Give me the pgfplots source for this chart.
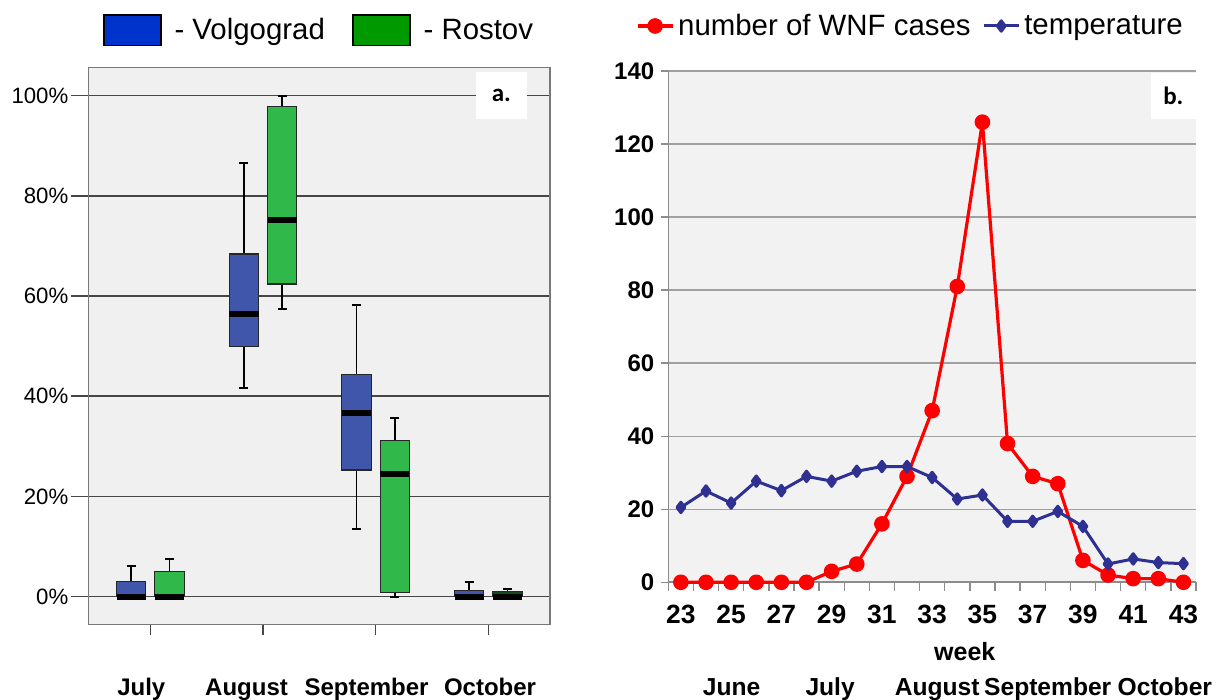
\documentclass[border=0pt]{standalone}
\usepackage{fontspec}
\setmainfont{Liberation Sans}
\newfontfamily\carlito{Carlito}
\usepackage{pgfplots}
\usepackage{pgfplotstable}
\usepgfplotslibrary{statistics}
\pgfplotsset{compat=1.18}

\definecolor{boxV}{RGB}{64,86,170}
\definecolor{boxR}{RGB}{48,184,74}
\definecolor{legV}{RGB}{0,51,204}
\definecolor{legR}{RGB}{0,153,0}
\definecolor{bgA}{RGB}{240,240,240}
\definecolor{bgB}{RGB}{242,242,242}
\definecolor{frameA}{RGB}{120,120,120}
\definecolor{gridA}{RGB}{70,70,70}
\definecolor{gridB}{RGB}{160,160,160}
\definecolor{axisB}{RGB}{140,140,140}
\definecolor{wnf}{RGB}{255,0,0}
\definecolor{temp}{RGB}{46,49,146}

% weekly WNF cases and temperature
\pgfplotstableread{
week cases temp
23 0   20.5
24 0   25.0
25 0   21.7
26 0   27.7
27 0   25.1
28 0   29.0
29 3   27.7
30 5   30.4
31 16  31.7
32 29  31.7
33 47  28.7
34 81  22.8
35 126 23.9
36 38  16.7
37 29  16.7
38 27  19.4
39 6   15.3
40 2   5.0
41 1   6.4
42 1   5.4
43 0   5.1
}\weekly

\begin{document}
\begin{tikzpicture}
\path[use as bounding box] (0,0) rectangle (608pt,350pt);

% ---- a. monthly share, box plots
\begin{axis}[
    at={(44.35pt,37.85pt)}, anchor=south west,
    scale only axis, width=230.65pt, height=278.3pt,
    clip=false,
    xmin=-0.547, xmax=3.547, ymin=-5.51, ymax=105.59,
    axis background/.style={fill=bgA},
    axis line style={draw=frameA, line width=0.65pt},
    xtick={0,1,2,3}, xticklabels={},
    ytick={0,20,40,60,80,100},
    yticklabels={0\%,20\%,40\%,60\%,80\%,100\%},
    xtick pos=bottom, ytick pos=left,
    tick align=outside,
    major tick length=9pt,
    tick style={draw=gridA, line width=0.8pt},
    major x tick style={/pgfplots/major tick length=5.5pt},
    yticklabel style={font=\fontsize{11.1}{13}\selectfont, inner sep=1pt},
    ymajorgrids,
    grid style={draw=gridA, line width=0.8pt},
    boxplot/draw direction=y,
    boxplot/box extend=0.26,
    boxplot/whisker extend=0.08,
    boxplot/every median/.style={draw=black, line width=3pt},
    boxplot/every whisker/.style={draw=black, line width=0.9pt},
    boxplot/every box/.style={draw=black!85, line width=0.6pt},
    legend image code/.code={\draw[#1] (0pt,-7.7pt) rectangle (28.5pt,7.7pt);},
    legend style={draw=none, fill=none, at={(rel axis cs:0.0317,1.067)}, anchor=west,
        inner sep=0pt, outer sep=0pt, nodes={inner sep=0pt, outer sep=0pt},
        font=\fontsize{14.7}{17}\selectfont,
        /tikz/every odd column/.append style={column sep=6.5pt},
        /tikz/every even column/.append style={column sep=13.75pt}},
    legend columns=2,
]
\addlegendimage{fill=legV, draw=black, line width=0.6pt}
\addlegendentry{- Volgograd}
\addlegendimage{fill=legR, draw=black, line width=0.6pt}
\addlegendentry{- Rostov}

% July
\addplot[fill=boxV, boxplot prepared={draw position=-0.17,
    lower whisker=0, lower quartile=0, median=0, upper quartile=2.96, upper whisker=6.2}] coordinates {};
\addplot[fill=boxR, boxplot prepared={draw position=0.17,
    lower whisker=0, lower quartile=0, median=0, upper quartile=4.95, upper whisker=7.6}] coordinates {};
% August
\addplot[fill=boxV, boxplot prepared={draw position=0.83,
    lower whisker=41.6, lower quartile=49.9, median=56.5, upper quartile=68.4, upper whisker=86.6}] coordinates {};
\addplot[fill=boxR, boxplot prepared={draw position=1.17,
    lower whisker=57.4, lower quartile=62.4, median=75.2, upper quartile=97.9, upper whisker=99.9}] coordinates {};
% September
\addplot[fill=boxV, boxplot prepared={draw position=1.83,
    lower whisker=13.5, lower quartile=25.3, median=36.7, upper quartile=44.3, upper whisker=58.2}] coordinates {};
\addplot[fill=boxR, boxplot prepared={draw position=2.17,
    lower whisker=0, lower quartile=0.9, median=24.4, upper quartile=31.2, upper whisker=35.6}] coordinates {};
% October
\addplot[fill=boxV, boxplot prepared={draw position=2.83,
    lower whisker=0, lower quartile=0, median=0, upper quartile=1.3, upper whisker=3.0}] coordinates {};
\addplot[fill=boxR!40!black, boxplot prepared={draw position=3.17,
    lower whisker=0, lower quartile=0, median=0, upper quartile=1.1, upper whisker=1.6}] coordinates {};

\fill[white] (rel axis cs:0.8396,0.9087) rectangle (rel axis cs:0.9495,0.9925);
\node[font=\carlito\bfseries\fontsize{12.5}{14}\selectfont] at (rel axis cs:0.8945,0.9506) {a.};

\begin{scope}[font=\bfseries\fontsize{12}{14}\selectfont, every node/.style={anchor=base}]
\node at (axis cs:-0.080,-5.51) [yshift=-35.7pt] {July};
\node at (axis cs:0.854,-5.51) [yshift=-35.7pt] {August};
\node at (axis cs:1.919,-5.51) [yshift=-35.7pt] {September};
\node at (axis cs:3.015,-5.51) [yshift=-35.7pt] {October};
\end{scope}
\end{axis}

% ---- b. weekly WNF cases and temperature
\begin{axis}[
    at={(334.15pt,58.85pt)}, anchor=south west,
    scale only axis, width=263.85pt, height=255.65pt,
    clip=false,
    xmin=22.5, xmax=43.5, ymin=0, ymax=140,
    axis background/.style={fill=bgB},
    axis x line*=bottom, axis y line*=left,
    axis line style={draw=axisB, line width=0.8pt, -},
    xtick={23,25,...,43},
    minor xtick={22.5,23.5,...,43.5},
    ytick={0,20,...,140},
    tick align=outside,
    major tick length=3.5pt,
    minor tick length=4.35pt,
    tick style={draw=axisB, line width=0.7pt},
    major x tick style={draw=none},
    ymajorgrids,
    grid style={draw=gridB, line width=0.7pt},
    /pgf/number format/assume math mode=true,
    yticklabel style={font=\bfseries\fontsize{12}{14}\selectfont},
    xticklabel style={font=\bfseries\fontsize{13.2}{15}\selectfont},
    xticklabel shift=4.6pt,
    legend image code/.code={\draw[mark repeat=2, mark phase=2, #1] plot coordinates {(0pt,0pt) (8.75pt,0pt) (17.5pt,0pt)};},
    legend style={draw=none, fill=none, at={(rel axis cs:-0.0612,1.088)}, anchor=west,
        inner sep=0pt, outer sep=0pt, nodes={inner sep=0pt, outer sep=0pt},
        font=\fontsize{14.7}{17}\selectfont,
        /tikz/every odd column/.append style={column sep=2pt},
        /tikz/every even column/.append style={column sep=5.8pt}},
    legend columns=2,
]
\addplot[color=wnf, line width=1.6pt, line join=round, mark=*, mark size=3.1pt] table[x=week, y=cases] {\weekly};
\addlegendentry{number of WNF cases}
\addplot[color=temp, line width=1.5pt, line join=round, mark=diamond*, mark size=2.6pt] table[x=week, y=temp] {\weekly};
\addlegendentry{temperature}

\fill[white] (rel axis cs:0.9147,0.906) rectangle (rel axis cs:1,0.9967);
\node[font=\carlito\bfseries\fontsize{12.5}{14}\selectfont] at (rel axis cs:0.957,0.951) {b.};

\node[font=\bfseries\fontsize{12.5}{14}\selectfont, anchor=base] at (axis cs:34.3,0) [yshift=-38.9pt] {week};
\begin{scope}[font=\bfseries\fontsize{12.3}{14}\selectfont, every node/.style={anchor=base}]
\node at (axis cs:25.02,0) [yshift=-56.85pt] {June};
\node at (axis cs:28.94,0) [yshift=-56.85pt] {July};
\node at (axis cs:33.2,0) [yshift=-56.85pt] {August};
\node at (axis cs:37.6,0) [yshift=-56.85pt] {September};
\node at (axis cs:42.26,0) [yshift=-56.85pt] {October};
\end{scope}
\end{axis}
\end{tikzpicture}
\end{document}
